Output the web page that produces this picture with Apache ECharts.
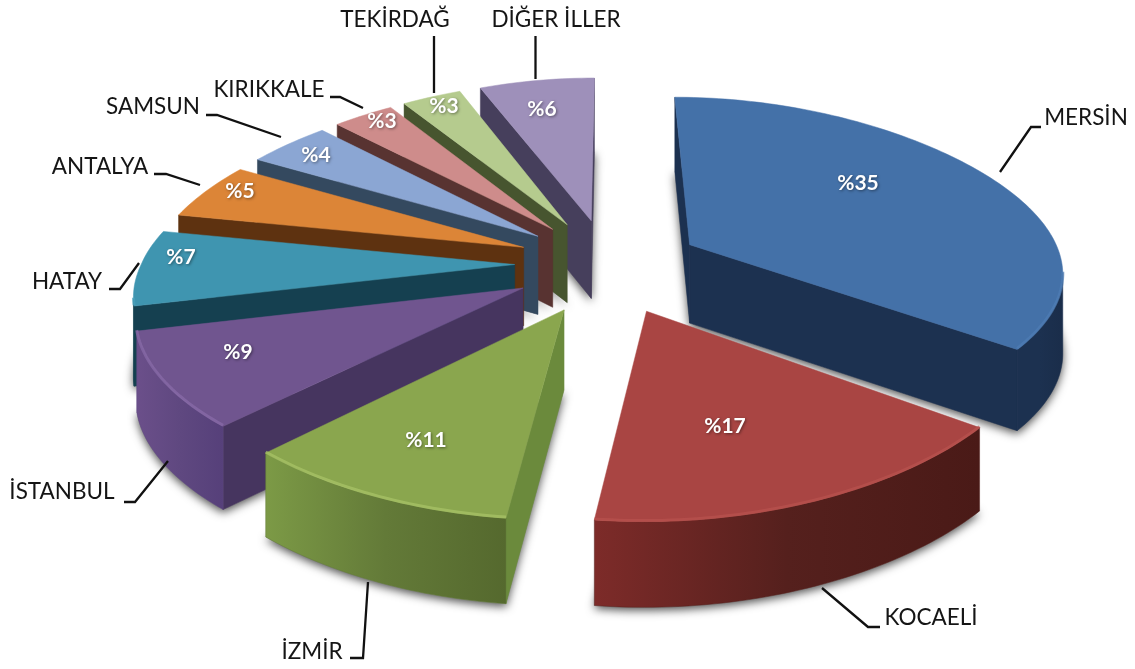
<!DOCTYPE html>
<html>
<head>
<meta charset="utf-8">
<style>html,body{margin:0;padding:0;background:#fff}#c{width:1135px;height:669px}</style>
<script src="https://cdn.jsdelivr.net/npm/echarts@6/dist/echarts.min.js"></script>
</head>
<body>
<div id="c"></div>
<script>
// --- data ---
const categories = ['MERSİN','KOCAELİ','İZMİR','İSTANBUL','HATAY','ANTALYA','SAMSUN','KIRIKKALE','TEKİRDAĞ','DİĞER İLLER'];
const values = [35,17,11,9,7,5,4,3,3,6];
// --- styles ---
const topColors  = ['#4471a8','#a94543','#8aa64e','#70558f','#3f95b0','#dc8537','#8ba6d3','#ce8c8b','#b5cb8e','#9e90ba'];
const rimColors  = ['#4f7db5','#b9534f','#a9c568','#8a6ca9','#4aa3bd','#e5913f','#96b0da','#d69796','#bed398','#a99cc4'];
const cutColors  = ['#1c3150','#4c1b18','#6b8a3c','#46355f','#154050','#5e3210','#34495f','#583331','#47552f','#463f5c'];
const wallLeft   = ['#1c3150','#7d2b29','#7c9a46','#6b4f8a','#154050','#5e3210','#34495f','#583331','#47552f','#463f5c'];
const wallMid    = ['#1c3150','#55201d','#637a38','#5f4880','#154050','#5e3210','#34495f','#583331','#47552f','#463f5c'];
const wallRight  = ['#1a2d4a','#4a1a17','#55692e','#56407a','#154050','#5e3210','#34495f','#583331','#47552f','#463f5c'];
// --- text layout (x, y centre of each text; leader-line vertices) ---
const nameAt = [[1086,118],[931,618],[312,652],[62,492],[67,282],[100,167],[153,107],[269,90],[395,20],[556,20]];
const pctAt  = [[858,183],[725,426],[426,440],[238,352],[181,257],[240,191],[316,155],[382,121],[444,106],[542,109]];
const leaders = [
  [[1000,172],[1031,127],[1041,127]],
  [[822,588],[868,627],[880,627]],
  [[368,582],[363,658],[350,658]],
  [[168,461],[135,502],[124,502]],
  [[139,263],[120,289],[109,289]],
  [[200,185],[166,174],[154,174]],
  [[281,137],[217,115],[206,115]],
  [[363,108],[340,97],[330,97]],
  [[434,93],[434,36]],
  [[535.5,79],[535.5,36]]
];
// --- projection of the ground plane ---
const CX = 608, CY = 266, SX = 374, SY = 170, PX = 0.153, QX = 0.059, PY = 0.12, NEAR_Y = 2.5;
const EXPLODE_U = 0.25, EXPLODE_V = 0.28, WALL = 79, LEFT_WARP = 0.052, NEAR_SHEAR = 0.012;
const total = values.reduce((a,b)=>a+b,0);
const starts = []; { let c = 0; values.forEach(v=>{starts.push(c); c += v;}); }
const TAU = Math.PI*2;
function project(u,v,down){
  const wx = 1 - PX*v + QX*v*v;
  const wy = 1 - PY*v;
  const near = Math.max(0,v);
  return [CX + SX*u/wx, CY + SY*v/wy + NEAR_Y*near*near + (down ? WALL/Math.sqrt(wy) : 0)];
}
function midAngle(i){ return (starts[i]+values[i]/2)/total*TAU; }
function slicePt(i,r,th,down){
  const m = midAngle(i);
  const t = th + LEFT_WARP*Math.min(0,Math.sin(th));
  const shear = NEAR_SHEAR*Math.max(0,-Math.cos(t))*(1-Math.sin(t));
  return project(EXPLODE_U*Math.sin(m)+r*(Math.sin(t)-shear), -EXPLODE_V*Math.cos(m)-r*Math.cos(t), down);
}
const drawOrder = values.map((_,i)=>i).sort((a,b)=>(-Math.cos(midAngle(a)))-(-Math.cos(midAngle(b))));
const seriesData = drawOrder.map(i=>[values[i], i]);

function rimPoints(i,val,down){
  const a0 = starts[i]/total*TAU, a1 = a0 + val/total*TAU;
  const N = Math.max(8, Math.round(val*3));
  const pts = [];
  for(let k=0;k<=N;k++) pts.push(slicePt(i,1,a0+(a1-a0)*k/N,down));
  return pts;
}

function renderShadow(params, api){
  const val = api.value(0), i = api.value(1);
  return {type:'polygon',shape:{points:[slicePt(i,0,0,true)].concat(rimPoints(i,val,true))},
    style:{fill:'#8a8a8a',shadowBlur:10,shadowColor:'rgba(0,0,0,0.7)',shadowOffsetX:0,shadowOffsetY:3}};
}

function renderSlice(params, api){
  const val = api.value(0), i = api.value(1);
  const top = rimPoints(i,val,false), bot = rimPoints(i,val,true), N = top.length-1;
  const apexT = slicePt(i,0,0,false), apexB = slicePt(i,0,0,true);
  const children = [];
  // cut walls (seen only when the edge runs leftward in clockwise order)
  if(top[0][0] < apexT[0]){
    children.push({type:'polygon',shape:{points:[apexT,top[0],bot[0],apexB]},
      style:{fill:cutColors[i],stroke:cutColors[i],lineWidth:0.5}});
  }
  if(top[N][0] > apexT[0]){
    children.push({type:'polygon',shape:{points:[top[N],apexT,apexB,bot[N]]},
      style:{fill:cutColors[i],stroke:cutColors[i],lineWidth:0.5}});
  }
  // outer wall
  const upper = [], lower = [];
  for(let k=0;k<N;k++){
    if(top[k+1][0] < top[k][0]){
      if(!upper.length){ upper.push(top[k]); lower.push(bot[k]); }
      upper.push(top[k+1]); lower.push(bot[k+1]);
    }
  }
  if(upper.length){
    children.push({type:'polygon',shape:{points:upper.concat(lower.slice().reverse())},
      style:{fill:{type:'linear',x:0,y:0,x2:1,y2:0,colorStops:[
        {offset:0,color:wallLeft[i]},{offset:0.5,color:wallMid[i]},{offset:1,color:wallRight[i]}]},
        stroke:wallMid[i],lineWidth:0.5}});
  }
  // top face
  children.push({type:'polygon',shape:{points:[apexT].concat(top)},
    style:{fill:topColors[i],stroke:topColors[i],lineWidth:0.5}});
  // soft bevel along the near part of the rim
  if(upper.length){
    children.push({type:'polyline',shape:{points:upper.map(p=>[p[0],p[1]-1])},
      style:{fill:null,stroke:rimColors[i],lineWidth:3,opacity:0.7}});
  }
  return {type:'group',children};
}

function renderText(params, api){
  const val = api.value(0), i = api.value(1);
  const children = [
    {type:'polyline',shape:{points:leaders[i]},style:{fill:null,stroke:'#111',lineWidth:2.3}},
    {type:'text',style:{text:categories[i],x:nameAt[i][0],y:nameAt[i][1],align:'center',verticalAlign:'middle',
      fill:'#151515',font:'22.5px Lato'}},
    {type:'text',style:{text:'%'+val,x:pctAt[i][0],y:pctAt[i][1],align:'center',verticalAlign:'middle',
      fill:'#ffffff',font:'bold 21px Lato',textShadowBlur:3,textShadowColor:'rgba(0,0,0,0.45)',textShadowOffsetX:1,textShadowOffsetY:1}}
  ];
  return {type:'group',children};
}

const chart = echarts.init(document.getElementById('c'),null,{renderer:'canvas'});
chart.setOption({
  backgroundColor:'#ffffff',
  animation:false,
  series:[
    {type:'custom',coordinateSystem:'none',renderItem:renderShadow,data:seriesData,silent:true,z:1},
    {type:'custom',coordinateSystem:'none',renderItem:renderSlice,data:seriesData,silent:true,z:2},
    {type:'custom',coordinateSystem:'none',renderItem:renderText,data:seriesData,silent:true,z:3}
  ]
});
</script>
</body>
</html>
